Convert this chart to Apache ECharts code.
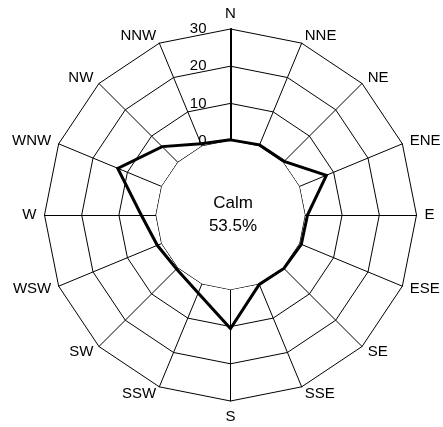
<!DOCTYPE html>
<html>
<head>
<meta charset="utf-8">
<script src="https://cdn.jsdelivr.net/npm/echarts@6/dist/echarts.min.js"></script>
<style>
  html, body { margin: 0; padding: 0; background: #fff; }
  #chart { width: 443px; height: 427px; }
</style>
</head>
<body>
<div id="chart"></div>
<script>
// Wind directions, clockwise from north
const directions = ['N', 'NNE', 'NE', 'ENE', 'E', 'ESE', 'SE', 'SSE',
                    'S', 'SSW', 'SW', 'WSW', 'W', 'WNW', 'NW', 'NNW'];
// Frequency (%) per direction
const frequency = [0.2, 0.4, 0.4, 7.9, 0.7, 0.6, 0.3, 0.2,
                   10.5, 2.7, 0.5, 1.3, 4.0, 12.8, 6.0, 0.7];
// Calm share (%)
const calmPercent = 53.5;
// Radial scale: the calm disc occupies the part below zero
const axisMin = -20;
const axisMax = 30;
const axisStep = 10;

const FONT = '"Liberation Sans", Arial, sans-serif';
const CX = 230.5, CY = 215, R = 186;

// ECharts lays radar indicators out counter-clockwise, so keep N first
// and walk the rest backwards to get a clockwise compass.
const order = [0].concat(directions.map((_, i) => directions.length - 1 - i).slice(0, -1));
const radarNames = order.map(i => directions[i]);
const radarValues = order.map(i => frequency[i]);

const chart = echarts.init(document.getElementById('chart'), null, { renderer: 'canvas' });

chart.setOption({
  animation: false,
  backgroundColor: '#fff',
  textStyle: { fontFamily: FONT },
  radar: {
    center: [CX, CY],
    radius: R,
    startAngle: 90,
    shape: 'polygon',
    splitNumber: (axisMax - axisMin) / axisStep,
    indicator: radarNames.map(d => ({ name: d, min: axisMin, max: axisMax })),
    axisName: { color: '#000', fontSize: 15, fontFamily: FONT },
    nameGap: 8,
    splitArea: { show: false },
    splitLine: { lineStyle: { color: '#000', width: 1 } },
    axisLine: { lineStyle: { color: '#000', width: 1 } },
    axisTick: { show: false },
    axisLabel: { show: false }
  },
  polar: { center: [CX, CY], radius: R },
  angleAxis: {
    type: 'value', min: 0, max: 360, startAngle: 90, show: false
  },
  radiusAxis: {
    type: 'value',
    min: axisMin, max: axisMax, interval: axisStep,
    axisLine: { show: true, lineStyle: { color: '#000', width: 2 } },
    axisTick: { show: false },
    splitLine: { show: false },
    axisLabel: {
      color: '#000', fontSize: 15, fontFamily: FONT, margin: 24,
      rotate: 0,
      formatter: v => (v >= 0 ? String(v) : '')
    }
  },
  graphic: [{
    type: 'text',
    x: CX + 2.5, y: CY,
    z: 100,
    style: {
      text: 'Calm\n' + calmPercent.toFixed(1) + '%',
      fill: '#000',
      font: '17px ' + FONT,
      lineHeight: 23,
      align: 'center',
      verticalAlign: 'middle'
    }
  }],
  series: [{
    type: 'radar',
    silent: true,
    symbol: 'none',
    z: 2,
    lineStyle: { color: '#000', width: 1 },
    areaStyle: { color: '#fff', opacity: 1 },
    data: [{ value: radarNames.map(() => 0) }]
  }, {
    type: 'radar',
    silent: true,
    symbol: 'none',
    z: 3,
    lineStyle: { color: '#000', width: 3, join: 'miter' },
    data: [{ value: radarValues }]
  }]
});
</script>
</body>
</html>
